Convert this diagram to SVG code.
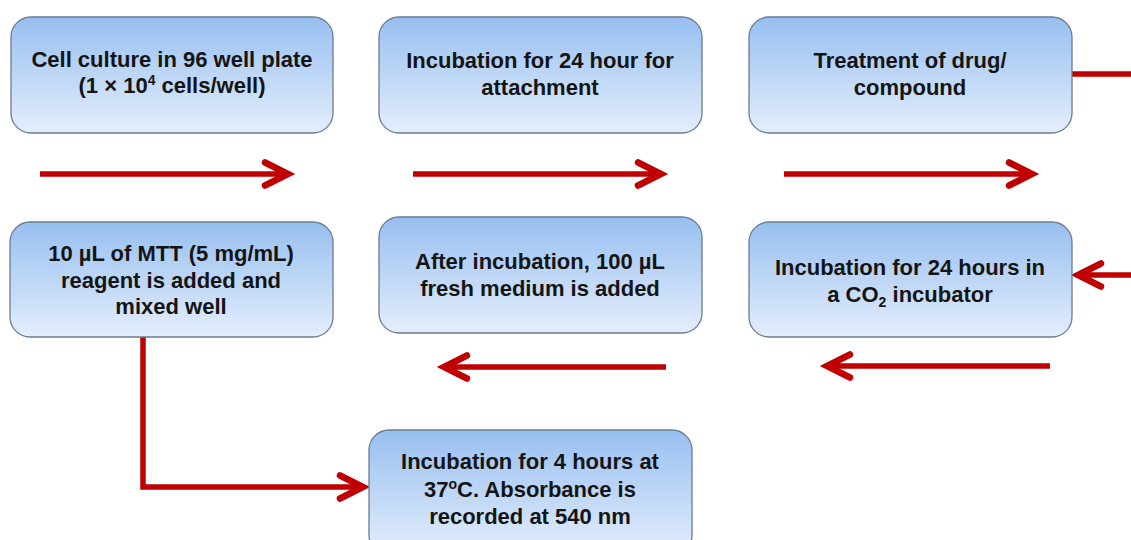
<svg xmlns="http://www.w3.org/2000/svg" width="1131" height="540" viewBox="0 0 1131 540">
  <style>
    .box { fill: url(#boxGrad); stroke: #6b7b92; stroke-width: 1.3; }
    .lbl { font-family: "Liberation Sans", Arial, sans-serif; font-weight: bold; font-size: 22px; fill: #141414; text-anchor: middle; }
    .con { fill: none; stroke: #c00000; stroke-width: 5.5; stroke-linejoin: miter; }
  </style>
  <defs>
    <linearGradient id="boxGrad" x1="0" y1="0" x2="0" y2="1">
      <stop offset="0" stop-color="#97bff0"/>
      <stop offset="1" stop-color="#e4eefc"/>
    </linearGradient>
    <marker id="chev" markerUnits="userSpaceOnUse" markerWidth="40" markerHeight="40" viewBox="-30 -20 40 40" refX="0" refY="0" orient="auto" overflow="visible">
      <path d="M -23 -11.5 L 0 0 L -23 11.5" fill="none" stroke="#c00000" stroke-width="6.5" stroke-linejoin="miter" stroke-linecap="round"/>
    </marker>
  </defs>
  <rect width="1131" height="540" fill="#ffffff"/>

  <g id="connectors">
    <line class="con" x1="40" y1="174" x2="288" y2="174" marker-end="url(#chev)"/>
    <line class="con" x1="413" y1="174" x2="661" y2="174" marker-end="url(#chev)"/>
    <line class="con" x1="784" y1="174" x2="1032" y2="174" marker-end="url(#chev)"/>
    <line class="con" x1="1072" y1="74" x2="1131" y2="74"/>
    <line class="con" x1="1131" y1="275" x2="1078" y2="275" marker-end="url(#chev)"/>
    <line class="con" x1="1050" y1="366" x2="827" y2="366" marker-end="url(#chev)"/>
    <line class="con" x1="666" y1="367" x2="444" y2="367" marker-end="url(#chev)"/>
    <polyline class="con" points="143,337 143,487 363,487" marker-end="url(#chev)"/>
  </g>

  <g id="n1">
    <rect class="box" x="11" y="17" width="322" height="116" rx="20"/>
    <text class="lbl" x="172" y="67">Cell culture in 96 well plate</text>
    <text class="lbl" x="172" y="93">(1 × 10<tspan font-size="14" dy="-8">4</tspan><tspan dy="8"> cells/well)</tspan></text>
  </g>
  <g id="n2">
    <rect class="box" x="379" y="17" width="323" height="116" rx="20"/>
    <text class="lbl" x="540" y="68">Incubation for 24 hour for</text>
    <text class="lbl" x="540" y="95">attachment</text>
  </g>
  <g id="n3">
    <rect class="box" x="749" y="17" width="323" height="116" rx="20"/>
    <text class="lbl" x="910" y="68">Treatment of drug/</text>
    <text class="lbl" x="910" y="95">compound</text>
  </g>
  <g id="n4">
    <rect class="box" x="10" y="222" width="323" height="115" rx="20"/>
    <text class="lbl" x="171" y="261">10 µL of MTT (5 mg/mL)</text>
    <text class="lbl" x="171" y="288">reagent is added and</text>
    <text class="lbl" x="171" y="314">mixed well</text>
  </g>
  <g id="n5">
    <rect class="box" x="379" y="217" width="323" height="116" rx="20"/>
    <text class="lbl" x="540" y="269">After incubation, 100 µL</text>
    <text class="lbl" x="540" y="296">fresh medium is added</text>
  </g>
  <g id="n6">
    <rect class="box" x="749" y="222" width="323" height="115" rx="20"/>
    <text class="lbl" x="910" y="275">Incubation for 24 hours in</text>
    <text class="lbl" x="910" y="302">a CO<tspan font-size="14" dy="5">2</tspan><tspan dy="-5"> incubator</tspan></text>
  </g>
  <g id="n7">
    <rect class="box" x="369" y="430" width="323" height="125" rx="20"/>
    <text class="lbl" x="530" y="469">Incubation for 4 hours at</text>
    <text class="lbl" x="530" y="497">37<tspan font-size="14" dy="-8">o</tspan><tspan dy="8">C. Absorbance is</tspan></text>
    <text class="lbl" x="530" y="524">recorded at 540 nm</text>
  </g>
</svg>
